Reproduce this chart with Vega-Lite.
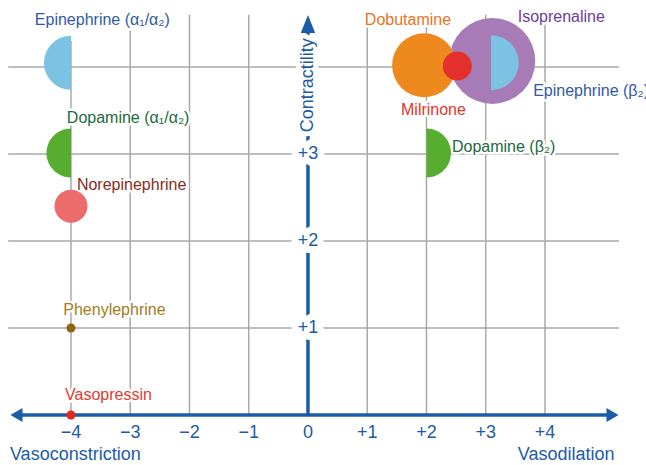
{
  "$schema": "https://vega.github.io/schema/vega-lite/v6.json",
  "width": 646,
  "height": 465,
  "autosize": {"type": "none"},
  "padding": 0,
  "background": "white",
  "config": {"view": {"stroke": null}},
  "datasets": {
    "vgrid": [
      {"x": -4, "bottom": 0, "top": 4.3},
      {"x": -3, "bottom": 0, "top": 4.6},
      {"x": -2, "bottom": 0, "top": 4.6},
      {"x": -1, "bottom": 0, "top": 4.6},
      {"x": 1, "bottom": 0, "top": 4.6},
      {"x": 2, "bottom": 0, "top": 4.6},
      {"x": 3, "bottom": 0, "top": 4.6},
      {"x": 4, "bottom": 0, "top": 4.6}
    ],
    "hgrid": [
      {"y": 1, "left": -5.06, "right": 5.25},
      {"y": 2, "left": -5.06, "right": 5.25},
      {"y": 3, "left": -5.06, "right": 5.25},
      {"y": 4, "left": -5.06, "right": 5.25}
    ],
    "axes": [
      {"axis": "vasoactivity", "x": -4.95, "x2": 5.1, "y": 0, "y2": 0},
      {"axis": "contractility", "x": 0, "x2": 0, "y": 0, "y2": 4.45}
    ],
    "arrows": [
      {"dir": "up", "x": 0, "y": 4.494},
      {"dir": "left", "x": -4.92, "y": 0},
      {"dir": "right", "x": 5.14, "y": 0}
    ],
    "drugs": [
      {"drug": "Isoprenaline", "agent": "Isoprenaline", "x": 3.11, "y": 4.07, "half": "full", "magnitude": 43},
      {"drug": "Dobutamine", "agent": "Dobutamine", "x": 1.96, "y": 4.02, "half": "full", "magnitude": 32},
      {"drug": "Epinephrine (β₂)", "agent": "Epinephrine", "x": 3.09, "y": 4.05, "half": "right", "magnitude": 27.5},
      {"drug": "Milrinone", "agent": "Milrinone", "x": 2.52, "y": 4.01, "half": "full", "magnitude": 14.5},
      {"drug": "Epinephrine (α₁/α₂)", "agent": "Epinephrine", "x": -4, "y": 4.05, "half": "left", "magnitude": 27},
      {"drug": "Dopamine (α₁/α₂)", "agent": "Dopamine", "x": -4, "y": 3.01, "half": "left", "magnitude": 24.5},
      {"drug": "Dopamine (β₂)", "agent": "Dopamine", "x": 2, "y": 3.01, "half": "right", "magnitude": 24.5},
      {"drug": "Norepinephrine", "agent": "Norepinephrine", "x": -4, "y": 2.4, "half": "full", "magnitude": 16.5},
      {"drug": "Phenylephrine", "agent": "Phenylephrine", "x": -4, "y": 1, "half": "full", "magnitude": 4.5},
      {"drug": "Vasopressin", "agent": "Vasopressin", "x": -4, "y": 0, "half": "full", "magnitude": 4.5}
    ],
    "druglabels": [
      {"text": "Epinephrine (α₁/α₂)", "agent": "Epinephrine", "x": -4.61, "y": 4.54},
      {"text": "Dopamine (α₁/α₂)", "agent": "Dopamine", "x": -4.07, "y": 3.41},
      {"text": "Norepinephrine", "agent": "Norepinephrine", "x": -3.9, "y": 2.64},
      {"text": "Phenylephrine", "agent": "Phenylephrine", "x": -4.13, "y": 1.21},
      {"text": "Vasopressin", "agent": "Vasopressin", "x": -4.1, "y": 0.23},
      {"text": "Dobutamine", "agent": "Dobutamine", "x": 0.96, "y": 4.54},
      {"text": "Isoprenaline", "agent": "Isoprenaline", "x": 3.54, "y": 4.58},
      {"text": "Milrinone", "agent": "Milrinone", "x": 1.57, "y": 3.5},
      {"text": "Epinephrine (β₂)", "agent": "Epinephrine", "x": 3.8, "y": 3.72},
      {"text": "Dopamine (β₂)", "agent": "Dopamine", "x": 2.43, "y": 3.08}
    ],
    "xticks": [
      {"text": "−4", "x": -4, "y": -0.21},
      {"text": "−3", "x": -3, "y": -0.21},
      {"text": "−2", "x": -2, "y": -0.21},
      {"text": "−1", "x": -1, "y": -0.21},
      {"text": "0", "x": 0, "y": -0.21},
      {"text": "+1", "x": 1, "y": -0.21},
      {"text": "+2", "x": 2, "y": -0.21},
      {"text": "+3", "x": 3, "y": -0.21},
      {"text": "+4", "x": 4, "y": -0.21}
    ],
    "yticks": [
      {"text": "+1", "x": 0, "y": 1},
      {"text": "+2", "x": 0, "y": 2},
      {"text": "+3", "x": 0, "y": 3}
    ],
    "titles": [
      {"text": "Vasoconstriction", "x": -5.03, "y": -0.46},
      {"text": "Vasodilation", "x": 3.54, "y": -0.46}
    ],
    "ytitle": [
      {"text": "Contractility", "x": 0, "y": 3.79}
    ]
  },
  "layer": [
    {
      "data": {"name": "vgrid"},
      "mark": {"type": "rule", "color": "#a9a9a9", "strokeWidth": 1.5},
      "encoding": {
        "x": {"field": "x", "type": "quantitative", "axis": null, "scale": {"domain": [-5.198, 5.705], "nice": false, "zero": false}},
        "y": {"field": "bottom", "type": "quantitative", "axis": null, "scale": {"domain": [-0.575, 4.77], "nice": false, "zero": false}},
        "y2": {"field": "top"}
      }
    },
    {
      "data": {"name": "hgrid"},
      "mark": {"type": "rule", "color": "#a9a9a9", "strokeWidth": 1.5},
      "encoding": {
        "y": {"field": "y", "type": "quantitative", "axis": null, "scale": {"domain": [-0.575, 4.77], "nice": false, "zero": false}},
        "x": {"field": "left", "type": "quantitative", "axis": null, "scale": {"domain": [-5.198, 5.705], "nice": false, "zero": false}},
        "x2": {"field": "right"}
      }
    },
    {
      "data": {"name": "axes"},
      "mark": {"type": "rule", "color": "#1b5ca8", "strokeWidth": 3.5},
      "encoding": {
        "x": {"field": "x", "type": "quantitative", "axis": null, "scale": {"domain": [-5.198, 5.705], "nice": false, "zero": false}},
        "x2": {"field": "x2"},
        "y": {"field": "y", "type": "quantitative", "axis": null, "scale": {"domain": [-0.575, 4.77], "nice": false, "zero": false}},
        "y2": {"field": "y2"}
      }
    },
    {
      "data": {"name": "arrows"},
      "mark": {"type": "point", "filled": true, "opacity": 1, "size": 324, "color": "#1b5ca8", "strokeWidth": 0},
      "encoding": {
        "x": {"field": "x", "type": "quantitative", "axis": null, "scale": {"domain": [-5.198, 5.705], "nice": false, "zero": false}},
        "y": {"field": "y", "type": "quantitative", "axis": null, "scale": {"domain": [-0.575, 4.77], "nice": false, "zero": false}},
        "shape": {"field": "dir", "type": "nominal", "legend": null, "scale": {"domain": ["up", "left", "right"], "range": ["M0,-1L0.8,1L-0.8,1Z", "M-0.67,0L0.67,-0.78L0.67,0.78Z", "M0.67,0L-0.67,-0.78L-0.67,0.78Z"]}}
      }
    },
    {
      "data": {"name": "yticks"},
      "mark": {"type": "text", "font": "Liberation Sans", "fontSize": 18, "align": "center", "baseline": "middle", "fill": "white", "stroke": "white", "strokeWidth": 14, "strokeJoin": "round"},
      "encoding": {
        "x": {"field": "x", "type": "quantitative", "axis": null, "scale": {"domain": [-5.198, 5.705], "nice": false, "zero": false}},
        "y": {"field": "y", "type": "quantitative", "axis": null, "scale": {"domain": [-0.575, 4.77], "nice": false, "zero": false}},
        "text": {"field": "text"}
      }
    },
    {
      "data": {"name": "ytitle"},
      "mark": {"type": "text", "font": "Liberation Sans", "fontSize": 18, "angle": 270, "align": "center", "baseline": "middle", "fill": "white", "stroke": "white", "strokeWidth": 10, "strokeJoin": "round"},
      "encoding": {
        "x": {"field": "x", "type": "quantitative", "axis": null, "scale": {"domain": [-5.198, 5.705], "nice": false, "zero": false}},
        "y": {"field": "y", "type": "quantitative", "axis": null, "scale": {"domain": [-0.575, 4.77], "nice": false, "zero": false}},
        "text": {"field": "text"}
      }
    },
    {
      "data": {"name": "druglabels"},
      "mark": {"type": "text", "font": "Liberation Sans", "fontSize": 16, "align": "left", "baseline": "middle", "fill": "white", "stroke": "white", "strokeWidth": 5, "strokeJoin": "round"},
      "encoding": {
        "x": {"field": "x", "type": "quantitative", "axis": null, "scale": {"domain": [-5.198, 5.705], "nice": false, "zero": false}},
        "y": {"field": "y", "type": "quantitative", "axis": null, "scale": {"domain": [-0.575, 4.77], "nice": false, "zero": false}},
        "text": {"field": "text"}
      }
    },
    {
      "data": {"name": "drugs"},
      "mark": {"type": "point", "filled": true, "opacity": 1, "strokeWidth": 0},
      "encoding": {
        "x": {"field": "x", "type": "quantitative", "axis": null, "scale": {"domain": [-5.198, 5.705], "nice": false, "zero": false}},
        "y": {"field": "y", "type": "quantitative", "axis": null, "scale": {"domain": [-0.575, 4.77], "nice": false, "zero": false}},
        "size": {"field": "magnitude", "type": "quantitative", "legend": null, "scale": {"type": "pow", "exponent": 2, "domain": [0, 50], "range": [0, 10000], "zero": true}},
        "shape": {"field": "half", "type": "nominal", "legend": null, "scale": {"domain": ["full", "left", "right"], "range": ["circle", "M0,-1A1,1,0,0,0,0,1Z", "M0,-1A1,1,0,0,1,0,1Z"]}},
        "fill": {"field": "agent", "type": "nominal", "legend": null, "scale": {"domain": ["Epinephrine", "Dopamine", "Norepinephrine", "Phenylephrine", "Vasopressin", "Dobutamine", "Isoprenaline", "Milrinone"], "range": ["#7cc3e3", "#57ad2f", "#ec6b6b", "#8c6412", "#e3261f", "#ee8a1d", "#a77cb6", "#e3302a"]}}
      }
    },
    {
      "data": {"name": "druglabels"},
      "mark": {"type": "text", "font": "Liberation Sans", "fontSize": 16, "align": "left", "baseline": "middle"},
      "encoding": {
        "x": {"field": "x", "type": "quantitative", "axis": null, "scale": {"domain": [-5.198, 5.705], "nice": false, "zero": false}},
        "y": {"field": "y", "type": "quantitative", "axis": null, "scale": {"domain": [-0.575, 4.77], "nice": false, "zero": false}},
        "text": {"field": "text"},
        "color": {"field": "agent", "type": "nominal", "legend": null, "scale": {"domain": ["Epinephrine", "Dopamine", "Norepinephrine", "Phenylephrine", "Vasopressin", "Dobutamine", "Isoprenaline", "Milrinone"], "range": ["#3359a0", "#1c6a3a", "#8a2a20", "#a57c1b", "#e43a2f", "#ea7420", "#6d3d97", "#e2352b"]}}
      }
    },
    {
      "data": {"name": "yticks"},
      "mark": {"type": "text", "font": "Liberation Sans", "fontSize": 18, "align": "center", "baseline": "middle", "color": "#1b5ca8"},
      "encoding": {
        "x": {"field": "x", "type": "quantitative", "axis": null, "scale": {"domain": [-5.198, 5.705], "nice": false, "zero": false}},
        "y": {"field": "y", "type": "quantitative", "axis": null, "scale": {"domain": [-0.575, 4.77], "nice": false, "zero": false}},
        "text": {"field": "text"}
      }
    },
    {
      "data": {"name": "xticks"},
      "mark": {"type": "text", "font": "Liberation Sans", "fontSize": 18, "align": "center", "baseline": "middle", "color": "#1b5ca8"},
      "encoding": {
        "x": {"field": "x", "type": "quantitative", "axis": null, "scale": {"domain": [-5.198, 5.705], "nice": false, "zero": false}},
        "y": {"field": "y", "type": "quantitative", "axis": null, "scale": {"domain": [-0.575, 4.77], "nice": false, "zero": false}},
        "text": {"field": "text"}
      }
    },
    {
      "data": {"name": "titles"},
      "mark": {"type": "text", "font": "Liberation Sans", "fontSize": 18, "align": "left", "baseline": "middle", "color": "#1b5ca8"},
      "encoding": {
        "x": {"field": "x", "type": "quantitative", "axis": null, "scale": {"domain": [-5.198, 5.705], "nice": false, "zero": false}},
        "y": {"field": "y", "type": "quantitative", "axis": null, "scale": {"domain": [-0.575, 4.77], "nice": false, "zero": false}},
        "text": {"field": "text"}
      }
    },
    {
      "data": {"name": "ytitle"},
      "mark": {"type": "text", "font": "Liberation Sans", "fontSize": 18, "angle": 270, "align": "center", "baseline": "middle", "color": "#1b5ca8"},
      "encoding": {
        "x": {"field": "x", "type": "quantitative", "axis": null, "scale": {"domain": [-5.198, 5.705], "nice": false, "zero": false}},
        "y": {"field": "y", "type": "quantitative", "axis": null, "scale": {"domain": [-0.575, 4.77], "nice": false, "zero": false}},
        "text": {"field": "text"}
      }
    }
  ],
  "resolve": {"scale": {"shape": "independent"}}
}
